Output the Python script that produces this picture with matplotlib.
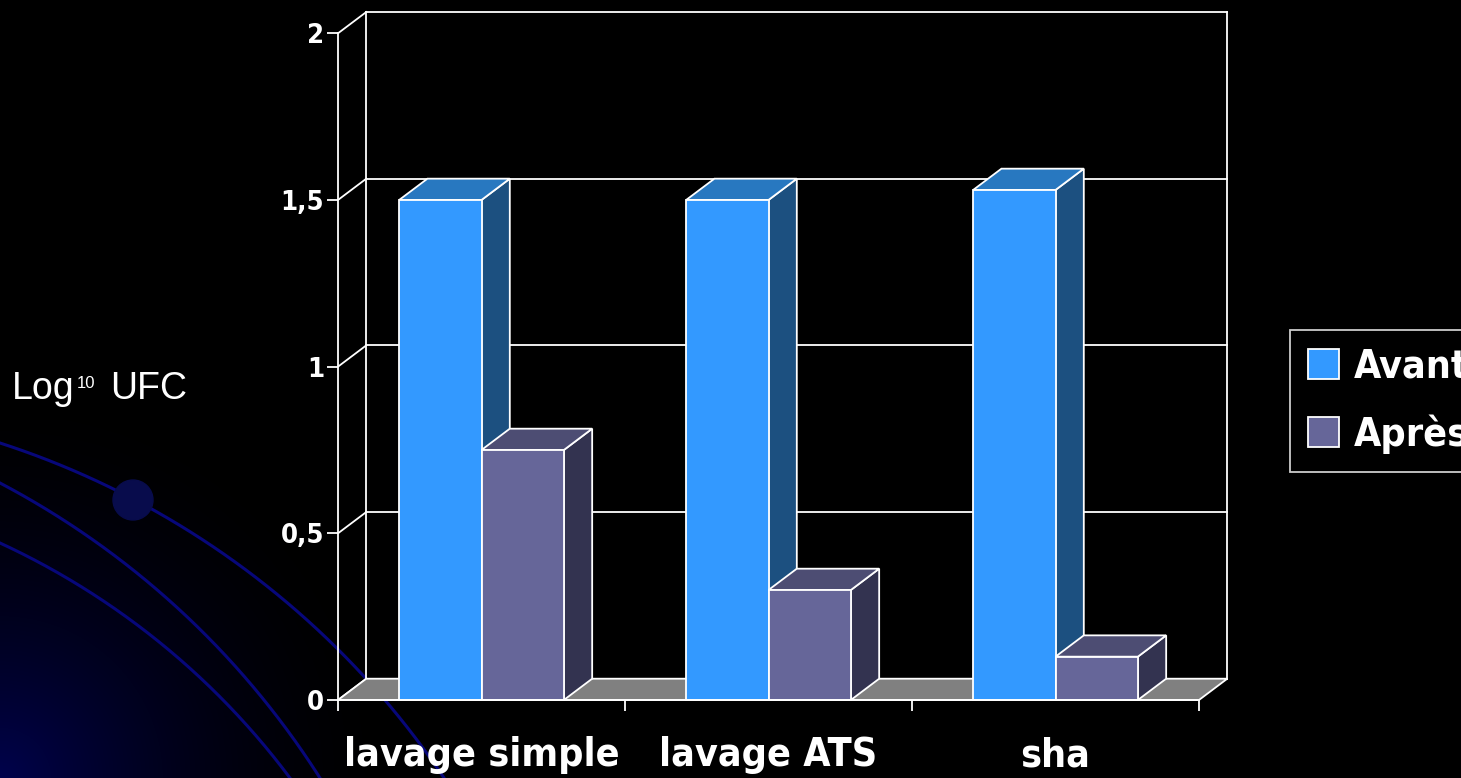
import numpy as np
import matplotlib
matplotlib.use("Agg")
import matplotlib.pyplot as plt
from matplotlib import font_manager as fm
from matplotlib.patches import Polygon, Circle, Rectangle

# ---- data ----
categories = ["lavage simple", "lavage ATS", "sha"]
series_names = ["Avant", "Après"]
avant = [1.50, 1.50, 1.53]
apres = [0.75, 0.33, 0.13]
y_ticks = [0, 0.5, 1, 1.5, 2]
y_tick_labels = ["0", "0,5", "1", "1,5", "2"]

# ---- pick a narrow bold face for the chart text ----
ttf = fm.fontManager.ttflist
if any(f.name == "Liberation Sans Narrow" for f in ttf):
    FAM, STRETCH = "Liberation Sans Narrow", "normal"
elif any(f.name == "DejaVu Sans" and f.stretch in ("condensed", "semi-condensed") for f in ttf):
    FAM, STRETCH = "DejaVu Sans", "condensed"
else:
    FAM, STRETCH = "Liberation Sans", "normal"

plt.rcParams["font.family"] = [FAM, "DejaVu Sans"]
plt.rcParams["font.weight"] = "bold"
plt.rcParams["font.stretch"] = STRETCH

W, H = 1461, 778
fig = plt.figure(figsize=(W / 100, H / 100), dpi=100, facecolor="black")

# scale the type so that category labels keep roughly their intended width
probe = fig.text(0, 0, categories[0], fontsize=33)
probe_w = probe.get_window_extent(fig.canvas.get_renderer()).width
probe.remove()
S = float(np.clip((249.0 / probe_w) ** 0.6, 0.8, 1.0))

front_colors = ["#3399ff", "#666699"]
top_colors = ["#2878c0", "#4d4d73"]
side_colors = ["#1c5080", "#333350"]
EDGE = "white"
LW = 1.3

# ---- decorative background (pixel coordinates) ----
bg = fig.add_axes([0, 0, 1, 1], zorder=0)
bg.set_xlim(0, W)
bg.set_ylim(H, 0)
bg.axis("off")

gx, gy = np.meshgrid(np.arange(0, 460), np.arange(420, H))
r = np.hypot(gx, H - gy) / 400.0
glow = np.clip(1 - r, 0, 1) ** 1.8
img = np.zeros(glow.shape + (3,))
img[..., 2] = 0.30 * glow
img[..., 1] = 0.01 * glow
bg.imshow(img, extent=[0, 460, H, 420], origin="upper", aspect="auto", zorder=0)


def circle_through(p1, p2, p3):
    (x1, y1), (x2, y2), (x3, y3) = p1, p2, p3
    A = np.array([[x2 - x1, y2 - y1], [x3 - x2, y3 - y2]], float) * 2
    b = np.array([x2**2 - x1**2 + y2**2 - y1**2, x3**2 - x2**2 + y3**2 - y2**2], float)
    cx, cy = np.linalg.solve(A, b)
    return cx, cy, np.hypot(x1 - cx, y1 - cy)


arcs = [
    [(0, 443), (250, 573), (417, 740)],
    [(0, 483), (183, 613), (320, 778)],
    [(0, 543), (140, 627), (290, 778)],
]
for pts in arcs:
    cx, cy, rad = circle_through(*pts)
    t0 = np.arctan2(pts[0][1] - cy, pts[0][0] - cx)
    t1 = np.arctan2(pts[-1][1] - cy, pts[-1][0] - cx)
    t = np.linspace(t0 - 0.05, t1 + 0.12, 300)
    bg.plot(cx + rad * np.cos(t), cy + rad * np.sin(t), color="#07077a", lw=2.2,
            solid_capstyle="round", zorder=1)

bg.add_patch(Circle((133, 500), 20, color="#080c4c", zorder=2))

# axis title with superscript
title_kw = dict(family="Liberation Sans", weight="normal", stretch="normal",
                color="white", va="baseline", ha="left")
bg.text(12, 399, "Log", fontsize=27, **title_kw)
bg.text(77, 388, "10", fontsize=12, **title_kw)
bg.text(110, 399, "UFC", fontsize=27, **title_kw)

# ---- 3D-style column chart ----
x0_px, x1_px, y0_px, y2_px = 338, 1199, 700, 33.3
ax = fig.add_axes([x0_px / W, (H - y0_px) / H, (x1_px - x0_px) / W, (y0_px - y2_px) / H],
                  zorder=2)
ncat = len(categories)
ax.set_xlim(0, ncat)
ax.set_ylim(0, 2)
ax.set_facecolor("none")

DX = 28.3 / 287.0   # depth offset, category units
DY = 21.3 / 333.3   # depth offset, value units

line_kw = dict(color=EDGE, lw=LW, clip_on=False, zorder=1)
for y in y_ticks:
    ax.plot([0, DX], [y, y + DY], **line_kw)
    ax.plot([DX, ncat + DX], [y + DY, y + DY], **line_kw)
ax.plot([DX, DX], [DY, 2 + DY], **line_kw)
ax.plot([ncat + DX, ncat + DX], [DY, 2 + DY], **line_kw)

ax.add_patch(Polygon([(0, 0), (ncat, 0), (ncat + DX, DY), (DX, DY)], closed=True,
                     fc="#808080", ec=EDGE, lw=LW, clip_on=False, zorder=1.5))


def box(x, w, h, k, z):
    side = [(x + w, 0), (x + w + DX, DY), (x + w + DX, h + DY), (x + w, h)]
    top = [(x, h), (x + w, h), (x + w + DX, h + DY), (x + DX, h + DY)]
    front = [(x, 0), (x + w, 0), (x + w, h), (x, h)]
    for poly, c in ((side, side_colors[k]), (top, top_colors[k]), (front, front_colors[k])):
        ax.add_patch(Polygon(poly, closed=True, fc=c, ec=EDGE, lw=LW,
                             joinstyle="miter", clip_on=False, zorder=z))


bar_w = 0.287
z = 2
for i in range(ncat):
    box(i + 0.5 - bar_w, bar_w, avant[i], 0, z)
    box(i + 0.5, bar_w, apres[i], 1, z + 0.1)
    z += 0.2

for side in ("top", "right"):
    ax.spines[side].set_visible(False)
for side in ("left", "bottom"):
    ax.spines[side].set_color(EDGE)
    ax.spines[side].set_linewidth(LW)
    ax.spines[side].set_zorder(5)

ax.set_yticks(y_ticks)
ax.set_yticklabels(y_tick_labels)
ax.tick_params(axis="y", colors="white", length=8, width=LW, direction="out",
               pad=2, labelsize=23 * S)
ax.set_xticks(np.arange(ncat + 1))
ax.set_xticklabels([])
ax.set_xticks(np.arange(ncat) + 0.5, minor=True)
ax.set_xticklabels(categories, minor=True)
ax.tick_params(axis="x", which="major", colors="white", length=8, width=LW, direction="out")
ax.tick_params(axis="x", which="minor", length=0, pad=26, labelsize=33 * S,
               labelcolor="white")

# ---- legend ----
handles = [Rectangle((0, 0), 1, 1, fc=c, ec=EDGE, lw=LW) for c in front_colors]
lfs = 33 * S
em = lfs * 100 / 72
leg = fig.legend(handles, series_names, loc="upper left",
                 bbox_to_anchor=(1290 / W, 1 - 330 / H), frameon=True,
                 facecolor="black", edgecolor="white", fontsize=lfs, labelcolor="white",
                 handlelength=31 / em, handleheight=31 / em,
                 handletextpad=15 / em, borderpad=18 / em,
                 labelspacing=0.72, fancybox=False, borderaxespad=0)
leg.get_frame().set_linewidth(LW)

fig.savefig("out.png", dpi=100, facecolor="black")
